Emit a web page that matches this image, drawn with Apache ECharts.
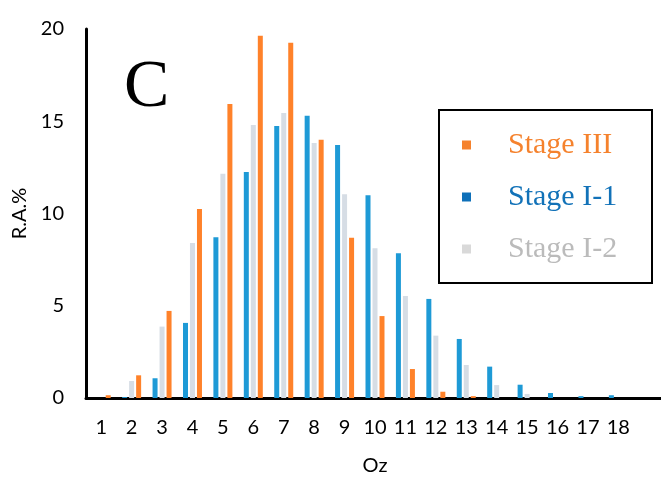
<!DOCTYPE html>
<html>
<head>
<meta charset="utf-8">
<script src="https://cdn.jsdelivr.net/npm/echarts@6/dist/echarts.min.js"></script>
<style>
  html, body { margin: 0; padding: 0; background: #fff; }
  #chart { width: 661px; height: 477px; }
</style>
</head>
<body>
<div id="chart"></div>
<script>
'use strict';

// Oz classes (last slot is empty, the axis runs on past 18)
var categories = ['1', '2', '3', '4', '5', '6', '7', '8', '9', '10', '11', '12', '13', '14', '15', '16', '17', '18', ''];

// R.A.% per stage
var stageI1 = [0, 0.05, 1.07, 4.07, 8.71, 12.25, 14.74, 15.3, 13.71, 10.99, 7.84, 5.37, 3.2, 1.7, 0.72, 0.27, 0.1, 0.15, 0];
var stageI2 = [0, 0.92, 3.87, 8.4, 12.16, 14.8, 15.45, 13.82, 11.04, 8.11, 5.53, 3.38, 1.79, 0.7, 0.22, 0, 0, 0, 0];
var stageIII = [0.15, 1.23, 4.72, 10.24, 15.93, 19.63, 19.25, 14.0, 8.68, 4.44, 1.57, 0.34, 0.1, 0, 0, 0, 0, 0, 0];

var yTicks = [0, 20, 5];

var chart = echarts.init(document.getElementById('chart'));

var labelFont = 'Lato, "Open Sans", sans-serif';

var option = {
  animation: false,
  grid: {
    left: 86,
    right: -3,
    top: 29,
    bottom: 79,
    containLabel: false,
    outerBoundsMode: 'none'
  },
  legend: {
    orient: 'vertical',
    left: 462,
    top: 130,
    padding: 0,
    itemWidth: 9,
    itemHeight: 9,
    itemGap: 22,
    icon: 'rect',
    textStyle: {
      fontFamily: '"Liberation Serif", serif',
      fontSize: 30,
      padding: [0, 0, 0, 32]
    },
    data: [
      { name: 'Stage III', itemStyle: { color: '#F5822D' }, textStyle: { color: '#F5822D' } },
      { name: 'Stage I-1', itemStyle: { color: '#0E70B9' }, textStyle: { color: '#1272B8' } },
      { name: 'Stage I-2', itemStyle: { color: '#D9D9D9' }, textStyle: { color: '#BBBBBB' } }
    ]
  },
  graphic: [{
    type: 'rect',
    shape: { x: 439, y: 110, width: 213, height: 173 },
    style: { fill: 'none', stroke: '#000', lineWidth: 2 },
    z: 10
  }, {
    type: 'text',
    left: 124,
    top: 54,
    style: {
      text: 'C',
      font: '68px "Liberation Serif", serif',
      fill: '#000'
    }
  }],
  xAxis: {
    type: 'category',
    data: categories,
    name: 'Oz',
    nameLocation: 'middle',
    nameGap: 58,
    nameTextStyle: { color: '#000', fontFamily: labelFont, fontSize: 20 },
    axisLine: { lineStyle: { color: '#000', width: 3 } },
    axisTick: { show: false },
    axisLabel: { color: '#000', fontFamily: labelFont, fontSize: 20, margin: 20, interval: 0 }
  },
  yAxis: {
    type: 'value',
    min: yTicks[0],
    max: yTicks[1],
    interval: yTicks[2],
    name: 'R.A.%',
    nameLocation: 'middle',
    nameGap: 50,
    nameTextStyle: { color: '#000', fontFamily: labelFont, fontSize: 20 },
    axisLine: { show: true, lineStyle: { color: '#000', width: 3 } },
    axisTick: { show: false },
    splitLine: { show: false },
    axisLabel: { color: '#000', fontFamily: labelFont, fontSize: 20, margin: 22 }
  },
  series: [{
    name: 'Stage I-1',
    type: 'bar',
    barWidth: 5,
    barGap: '40%',
    itemStyle: { color: '#1E9AD6' },
    data: stageI1
  }, {
    name: 'Stage I-2',
    type: 'bar',
    barWidth: 5,
    barGap: '40%',
    itemStyle: { color: '#D6DDE5' },
    data: stageI2
  }, {
    name: 'Stage III',
    type: 'bar',
    barWidth: 5,
    barGap: '40%',
    itemStyle: { color: '#FF822A' },
    data: stageIII
  }]
};

chart.setOption(option);
</script>
</body>
</html>
